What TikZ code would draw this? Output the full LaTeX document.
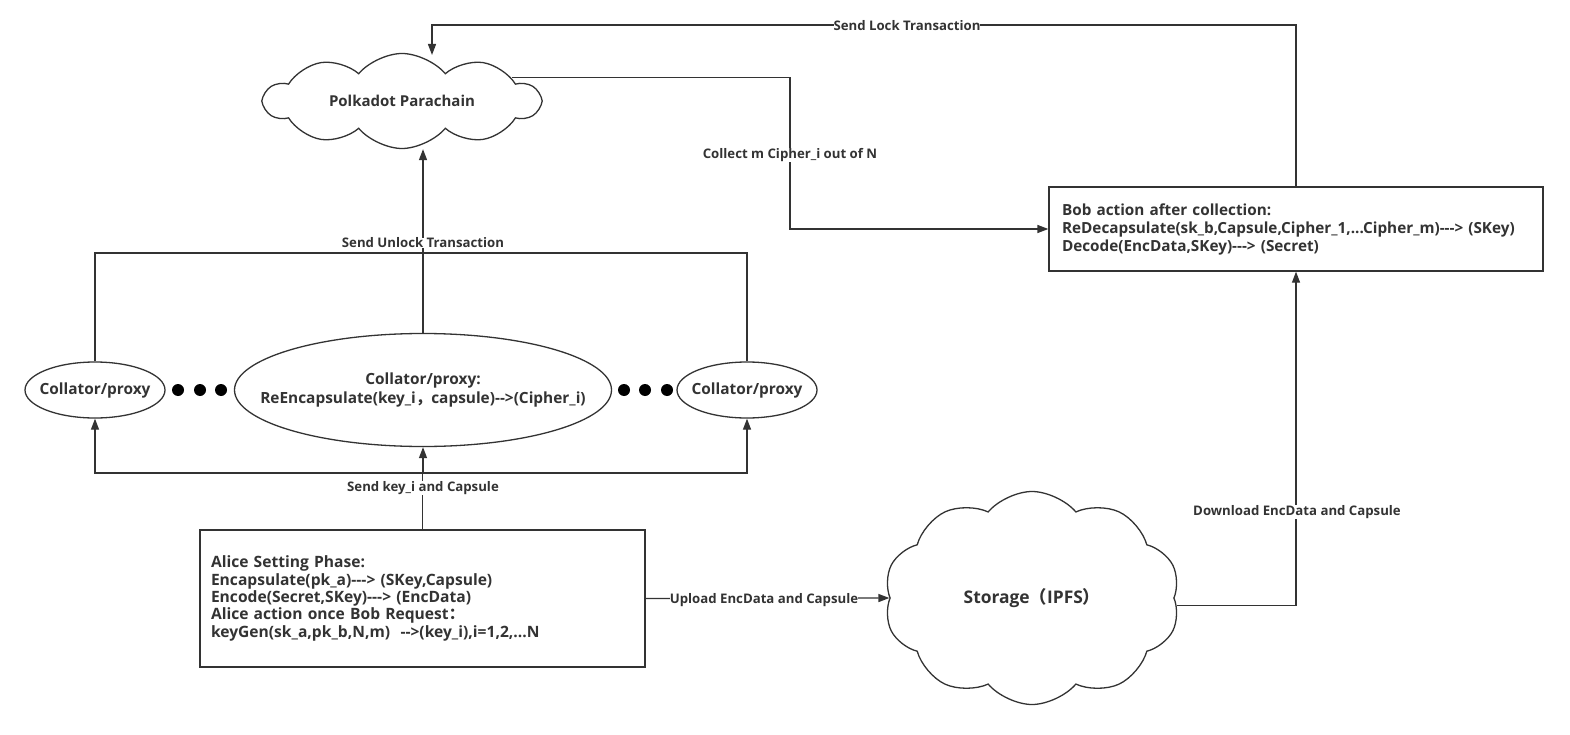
\documentclass[tikz,border=0pt]{standalone}
\usepackage{fontspec}
\setmainfont{Open Sans}
\newfontfamily\cjk{Noto Sans CJK SC}
\usetikzlibrary{shapes.symbols,shapes.geometric,arrows.meta,calc}
\definecolor{ink}{HTML}{333333}
\newcommand\myhy{-\kern0pt}
\tikzset{
  cloudbox/.style={cloud, draw=ink, cloud puffs=10, cloud puff arc=100, cloud ignores aspect, inner sep=0pt, text=ink},
  ellnode/.style={ellipse, draw=ink, inner ysep=0pt, text=ink, align=center, font=\bfseries\fontsize{15.4}{19}\selectfont},
  rectbox/.style={rectangle, draw=ink, align=left, text=ink, inner ysep=0pt},
  lbl/.style={fill=white, inner sep=0pt, text=ink, font=\bfseries\fontsize{13.2}{14}\selectfont},
  arr/.style={-{Triangle[length=11pt,width=8pt]}},
  dotc/.style={circle, fill=black, inner sep=0pt, minimum size=12pt}
}
\begin{document}
\begin{tikzpicture}[x=1pt,y=-1pt, line width=1.3pt, draw=ink]
\useasboundingbox (0,0) rectangle (1570,735);
\fill[white] (0,0) rectangle (1570,735);

% nodes
\node[cloudbox, minimum width=275pt, minimum height=95pt, font=\bfseries\fontsize{15}{17}\selectfont] (poly) at (402,101) {Polkadot Parachain};
\node[cloudbox, minimum width=296pt, minimum height=213pt, font=\bfseries\fontsize{17.4}{20}\selectfont] (storage) at (1032,598) {Storage{\cjk （}IPFS{\cjk ）}};

\node[rectbox, minimum width=494pt, minimum height=84pt, text width=468pt, inner xsep=13pt, font=\bfseries\fontsize{15.3}{18}\selectfont] (bob) at (1296,229)
 {Bob action after collection:\\ReDecapsulate(sk\_b,Capsule,Cipher\_1,...Cipher\_m)\myhy\myhy\myhy> (SKey)\\Decode(EncData,SKey)\myhy\myhy\myhy> (Secret)};

\node[rectbox, minimum width=445pt, minimum height=137pt, text width=423pt, inner xsep=11pt, font=\bfseries\fontsize{15.6}{17.3}\selectfont] (alice) at (422.5,598.5)
 {Alice Setting Phase:\\Encapsulate(pk\_a)\myhy\myhy\myhy> (SKey,Capsule)\\Encode(Secret,SKey)\myhy\myhy\myhy> (EncData)\\Alice action once Bob Request{\cjk ：}\\keyGen(sk\_a,pk\_b,N,m)~~\myhy\myhy>(key\_i),i=1,2,...N};

\node[ellnode, inner xsep=-8pt, minimum width=140pt, minimum height=56pt] (left) at (95,390) {Collator/proxy};
\node[ellnode, inner xsep=-32pt, minimum width=377pt, minimum height=113pt] (center) at (423,390) {Collator/proxy:\\ReEncapsulate(key\_i{\cjk ，}capsule)\myhy\myhy>(Cipher\_i)};
\node[ellnode, inner xsep=-8pt, minimum width=140pt, minimum height=56pt] (right) at (747,390) {Collator/proxy};

\node[dotc] (d1) at (178,390) {};
\node[dotc] (d2) at (200,390) {};
\node[dotc] (d3) at (221,390) {};
\node[dotc] (d4) at (624,390) {};
\node[dotc] (d5) at (645,390) {};
\node[dotc] (d6) at (667,390) {};

% coordinates
\coordinate (ksplit) at (423,473);
\coordinate (usplit) at (423,253);
\coordinate (locktop) at (432,25);
\coordinate (collx) at (790,73);

% connectors
\draw (alice.north) -- (alice.north |- ksplit);
\draw[arr] (ksplit) -- (center.south);
\draw[arr] (ksplit) -| (left.south);
\draw[arr] (ksplit) -| (right.south);

\draw (left.north) |- (usplit);
\draw (right.north) |- (usplit);
\draw (center.north) -- (usplit);
\draw[arr] (usplit) -- (usplit |- poly.south);

\draw[arr] (bob.north) |- (locktop) -- ($(locktop)+(0,30)$);
\draw[arr] (poly.12) -- (poly.12 -| collx) |- (bob.west);

\draw[arr] (alice.east) -- (storage.west);
\draw[arr] (storage.-3) -| (bob.south);

% labels
\node[lbl] (l1) at (907,26) {Send Lock Transaction};
\node[lbl] (l2) at (790,155) {Collect m Cipher\_i out of N};
\node[lbl] (l3) at (423,243) {Send Unlock Transaction};
\node[lbl] (l4) at (423,488) {Send key\_i and Capsule};
\node[lbl] (l5) at (764,600) {Upload EncData and Capsule};
\node[lbl] (l6) at (1297,512) {Download EncData and Capsule};
\end{tikzpicture}
\end{document}
